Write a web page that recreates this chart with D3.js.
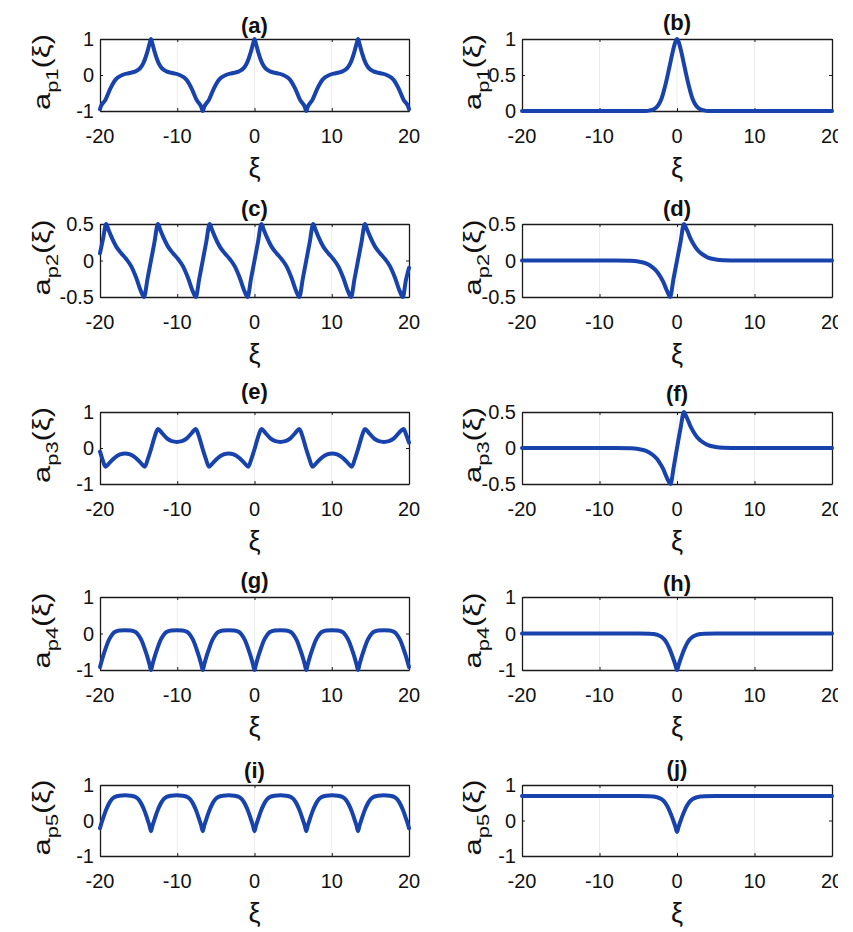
<!DOCTYPE html>
<html>
<head>
<meta charset="utf-8">
<script src="https://cdn.jsdelivr.net/npm/d3@7"></script>
<style>
  html, body { margin: 0; padding: 0; background: #ffffff; }
  svg { display: block; }
  text { font-family: "Liberation Sans", Arial, sans-serif; fill: #111; }
</style>
</head>
<body>
<svg id="chart" width="853" height="932"></svg>
<script>
// ---------------- DATA ----------------
const xTicks = [-20, -10, 0, 10, 20];

// (a) a_p1, periodic
const xiA = [-20,-19.9,-19.3,-18.65,-18.0,-17.1,-16.3,-15.4,-14.8,-14.4,-13.9,-13.6,-13.4,
  -13.2,-12.9,-12.4,-12.0,-11.4,-10.5,-9.7,-8.8,-8.15,-7.5,-6.9,-6.7,
  -6.5,-5.9,-5.25,-4.6,-3.7,-2.9,-2.0,-1.4,-1.0,-0.5,-0.2,0,
  0.2,0.5,1.0,1.4,2.0,2.9,3.7,4.6,5.25,5.9,6.5,6.7,
  6.9,7.5,8.15,8.8,9.7,10.5,11.4,12.0,12.4,12.9,13.2,13.4,
  13.6,13.9,14.4,14.8,15.4,16.3,17.1,18.0,18.65,19.3,19.9,20];
const apA = [-0.95,-0.88,-0.69,-0.37,-0.13,0.0,0.05,0.1,0.19,0.32,0.62,0.86,1,
  0.86,0.62,0.32,0.19,0.1,0.05,0.0,-0.13,-0.37,-0.69,-0.88,-1,
  -0.88,-0.69,-0.37,-0.13,0.0,0.05,0.1,0.19,0.32,0.62,0.86,1,
  0.86,0.62,0.32,0.19,0.1,0.05,0.0,-0.13,-0.37,-0.69,-0.88,-1,
  -0.88,-0.69,-0.37,-0.13,0.0,0.05,0.1,0.19,0.32,0.62,0.86,1,
  0.86,0.62,0.32,0.19,0.1,0.05,0.0,-0.13,-0.37,-0.69,-0.88,-0.95];

// (b) a_p1, localized
const xiB = [-20,-10,-5,-4,-3.5,-3,-2.5,-2,-1.5,-1,-0.6,-0.3,0,0.3,0.6,1,1.5,2,2.5,3,3.5,4,5,10,20];
const apB = [0,0,0,0,0.008,0.025,0.07,0.17,0.36,0.6,0.8,0.93,1,0.93,0.8,0.6,0.36,0.17,0.07,0.025,0.008,0,0,0,0];

// (c) a_p2, periodic sawtooth-like
const xiC = [-20,-19.6,-19.2,-18.9,-18.55,-17.9,-17.25,-16.6,-15.95,-15.3,-14.7,-14.3,
  -13.85,-13.4,-12.95,-12.5,-12.2,-11.85,-11.2,-10.55,-9.9,-9.25,-8.6,-8.0,-7.6,
  -7.15,-6.7,-6.25,-5.8,-5.5,-5.15,-4.5,-3.85,-3.2,-2.55,-1.9,-1.3,-0.9,
  -0.45,0,0.45,0.9,1.2,1.55,2.2,2.85,3.5,4.15,4.8,5.4,5.8,
  6.25,6.7,7.15,7.6,7.9,8.25,8.9,9.55,10.2,10.85,11.5,12.1,12.5,
  12.95,13.4,13.85,14.3,14.6,14.95,15.6,16.25,16.9,17.55,18.2,18.8,19.2,19.6,20];
const apC = [0.1,0.3,0.5,0.42,0.33,0.19,0.1,0.02,-0.08,-0.24,-0.42,-0.5,
  -0.25,0,0.25,0.5,0.42,0.33,0.19,0.1,0.02,-0.08,-0.24,-0.42,-0.5,
  -0.25,0,0.25,0.5,0.42,0.33,0.19,0.1,0.02,-0.08,-0.24,-0.42,-0.5,
  -0.25,0,0.25,0.5,0.42,0.33,0.19,0.1,0.02,-0.08,-0.24,-0.42,-0.5,
  -0.25,0,0.25,0.5,0.42,0.33,0.19,0.1,0.02,-0.08,-0.24,-0.42,-0.5,
  -0.25,0,0.25,0.5,0.42,0.33,0.19,0.1,0.02,-0.08,-0.24,-0.42,-0.5,-0.27,-0.1];

// (d) a_p2, localized
const xiD = [-20,-8,-6,-5,-4,-3.2,-2.6,-2.1,-1.7,-1.4,-1.1,-0.9,-0.45,0,0.45,0.9,1.1,1.4,1.7,2.1,2.6,3.2,4,5,6,8,20];
const apD = [0,0,-0.005,-0.015,-0.04,-0.09,-0.15,-0.23,-0.31,-0.39,-0.46,-0.5,-0.25,0,0.25,0.5,0.46,0.39,0.31,0.23,0.15,0.09,0.04,0.015,0.005,0,0];

// (e) a_p3, periodic
const xiE = [-20,-19.7,-19.3,-18.8,-18.1,-17.4,-16.75,-16.1,-15.4,-14.7,-14.2,
  -13.8,-13.35,-12.9,-12.5,-12.0,-11.3,-10.7,-10.05,-9.4,-8.8,-8.1,-7.6,
  -7.2,-6.75,-6.3,-5.9,-5.4,-4.7,-4.0,-3.35,-2.7,-2.0,-1.3,-0.8,
  -0.4,0.05,0.5,0.9,1.4,2.1,2.7,3.35,4.0,4.6,5.3,5.8,
  6.2,6.65,7.1,7.5,8.0,8.7,9.4,10.05,10.7,11.4,12.1,12.6,
  13.0,13.45,13.9,14.3,14.8,15.5,16.1,16.75,17.4,18.0,18.7,19.3,19.65,20];
const apE = [-0.1,-0.3,-0.52,-0.42,-0.27,-0.18,-0.15,-0.18,-0.27,-0.42,-0.52,
  -0.3,0,0.33,0.53,0.42,0.26,0.19,0.17,0.19,0.26,0.42,0.53,
  0.33,0,-0.3,-0.52,-0.42,-0.27,-0.18,-0.15,-0.18,-0.27,-0.42,-0.52,
  -0.3,0,0.33,0.53,0.42,0.26,0.19,0.17,0.19,0.26,0.42,0.53,
  0.33,0,-0.3,-0.52,-0.42,-0.27,-0.18,-0.15,-0.18,-0.27,-0.42,-0.52,
  -0.3,0,0.33,0.53,0.42,0.26,0.19,0.17,0.19,0.26,0.42,0.53,0.36,0.15];

// (f) a_p3, localized
const xiF = [-20,-8,-6,-5,-4,-3.2,-2.6,-2.1,-1.7,-1.4,-1.1,-0.85,-0.4,0,0.45,0.9,1.1,1.4,1.7,2.1,2.6,3.2,4,5,6,8,20];
const apF = [0,0,-0.005,-0.015,-0.04,-0.09,-0.15,-0.23,-0.31,-0.39,-0.46,-0.5,-0.25,0,0.27,0.5,0.46,0.39,0.31,0.23,0.15,0.09,0.04,0.015,0.005,0,0];

// (g) a_p4, periodic arches
const xiG = [-20,-19.9,-19.6,-19.3,-18.9,-18.5,-18.1,-17.5,-16.75,-16.0,-15.4,-15.0,-14.6,-14.2,-13.9,-13.6,-13.4,
  -13.2,-12.9,-12.6,-12.2,-11.8,-11.4,-10.8,-10.05,-9.3,-8.7,-8.3,-7.9,-7.5,-7.2,-6.9,-6.7,
  -6.5,-6.2,-5.9,-5.5,-5.1,-4.7,-4.1,-3.35,-2.6,-2.0,-1.6,-1.2,-0.8,-0.5,-0.2,0,
  0.2,0.5,0.8,1.2,1.6,2.0,2.6,3.35,4.1,4.7,5.1,5.5,5.9,6.2,6.5,6.7,
  6.9,7.2,7.5,7.9,8.3,8.7,9.3,10.05,10.8,11.4,11.8,12.2,12.6,12.9,13.2,13.4,
  13.6,13.9,14.2,14.6,15.0,15.4,16.0,16.75,17.5,18.1,18.5,18.9,19.3,19.6,19.9,20];
const apG = [-0.92,-0.84,-0.62,-0.43,-0.2,-0.05,0.04,0.08,0.09,0.08,0.04,-0.05,-0.2,-0.43,-0.62,-0.84,-1,
  -0.84,-0.62,-0.43,-0.2,-0.05,0.04,0.08,0.09,0.08,0.04,-0.05,-0.2,-0.43,-0.62,-0.84,-1,
  -0.84,-0.62,-0.43,-0.2,-0.05,0.04,0.08,0.09,0.08,0.04,-0.05,-0.2,-0.43,-0.62,-0.84,-1,
  -0.84,-0.62,-0.43,-0.2,-0.05,0.04,0.08,0.09,0.08,0.04,-0.05,-0.2,-0.43,-0.62,-0.84,-1,
  -0.84,-0.62,-0.43,-0.2,-0.05,0.04,0.08,0.09,0.08,0.04,-0.05,-0.2,-0.43,-0.62,-0.84,-1,
  -0.84,-0.62,-0.43,-0.2,-0.05,0.04,0.08,0.09,0.08,0.04,-0.05,-0.2,-0.43,-0.62,-0.84,-0.92];

// (h) a_p4, localized dip
const xiH = [-20,-5,-3.5,-3,-2.5,-2,-1.6,-1.3,-1.0,-0.7,-0.4,-0.2,0,0.2,0.4,0.7,1.0,1.3,1.6,2,2.5,3,3.5,5,20];
const apH = [0,0,-0.005,-0.015,-0.04,-0.09,-0.17,-0.27,-0.4,-0.56,-0.74,-0.87,-1,-0.87,-0.74,-0.56,-0.4,-0.27,-0.17,-0.09,-0.04,-0.015,-0.005,0,0];

// (i) a_p5, periodic arches
const xiI = xiG.slice();
const apI = [-0.22,-0.14,0.06,0.25,0.45,0.59,0.66,0.7,0.71,0.7,0.66,0.59,0.45,0.25,0.06,-0.14,-0.3,
  -0.14,0.06,0.25,0.45,0.59,0.66,0.7,0.71,0.7,0.66,0.59,0.45,0.25,0.06,-0.14,-0.3,
  -0.14,0.06,0.25,0.45,0.59,0.66,0.7,0.71,0.7,0.66,0.59,0.45,0.25,0.06,-0.14,-0.3,
  -0.14,0.06,0.25,0.45,0.59,0.66,0.7,0.71,0.7,0.66,0.59,0.45,0.25,0.06,-0.14,-0.3,
  -0.14,0.06,0.25,0.45,0.59,0.66,0.7,0.71,0.7,0.66,0.59,0.45,0.25,0.06,-0.14,-0.3,
  -0.14,0.06,0.25,0.45,0.59,0.66,0.7,0.71,0.7,0.66,0.59,0.45,0.25,0.06,-0.14,-0.22];

// (j) a_p5, localized dip on a plateau
const xiJ = xiH.slice();
const apJ = [0.69,0.69,0.685,0.675,0.65,0.6,0.52,0.42,0.29,0.13,-0.05,-0.18,-0.32,-0.18,-0.05,0.13,0.29,0.42,0.52,0.6,0.65,0.675,0.685,0.69,0.69];

const ticks1 = [-1, 0, 1];
const ticksHalf = [-0.5, 0, 0.5];
const ticks01 = [0, 0.5, 1];

const panelLetters = ["a","b","c","d","e","f","g","h","i","j"];
const subLabels = ["p1","p1","p2","p2","p3","p3","p4","p4","p5","p5"];

// ---------------- LAYOUT ----------------
const cols = [{x0: 100, x1: 409, labelX: 50, tickRight: 94},
              {x0: 522, x1: 832, labelX: 481, tickRight: 516}];
const rows = [{y0: 39, y1: 111}, {y0: 224, y1: 297}, {y0: 412, y1: 484},
              {y0: 597, y1: 670}, {y0: 785, y1: 856}];
const titleY = [33, 30, 216, 216, 399, 401, 588, 591, 778, 776];

const panels = [
  {xi: xiA, ap: apA, dom: [-1, 1], yt: ticks1},
  {xi: xiB, ap: apB, dom: [0, 1], yt: ticks01},
  {xi: xiC, ap: apC, dom: [-0.5, 0.5], yt: ticksHalf},
  {xi: xiD, ap: apD, dom: [-0.5, 0.5], yt: ticksHalf},
  {xi: xiE, ap: apE, dom: [-1, 1], yt: ticks1},
  {xi: xiF, ap: apF, dom: [-0.5, 0.5], yt: ticksHalf},
  {xi: xiG, ap: apG, dom: [-1, 1], yt: ticks1},
  {xi: xiH, ap: apH, dom: [-1, 1], yt: ticks1},
  {xi: xiI, ap: apI, dom: [-1, 1], yt: ticks1},
  {xi: xiJ, ap: apJ, dom: [-1, 1], yt: ticks1}
];

const svg = d3.select("#chart");
const lineColor = "#1843ad";
const fmt = v => String(v);

panels.forEach((p, i) => {
  const c = cols[i % 2], r = rows[Math.floor(i / 2)];
  const x = d3.scaleLinear().domain([-20, 20]).range([c.x0, c.x1]);
  const y = d3.scaleLinear().domain(p.dom).range([r.y1, r.y0]);
  const g = svg.append("g");

  // faint vertical grid traces
  g.selectAll("line.grid").data(xTicks.slice(1, -1)).join("line")
    .attr("x1", d => x(d)).attr("x2", d => x(d))
    .attr("y1", r.y0).attr("y2", r.y1)
    .attr("stroke", "#ececec").attr("stroke-width", 1);

  // axes (ticks inward), with box
  const axB = d3.axisBottom(x).tickValues(xTicks).tickSizeInner(-3).tickSizeOuter(0).tickFormat("");
  const axT = d3.axisTop(x).tickValues(xTicks).tickSizeInner(-3).tickSizeOuter(0).tickFormat("");
  const axL = d3.axisLeft(y).tickValues(p.yt).tickSizeInner(-3).tickSizeOuter(0).tickFormat("");
  const axR = d3.axisRight(y).tickValues(p.yt).tickSizeInner(-3).tickSizeOuter(0).tickFormat("");
  [[axB, `translate(0,${r.y1})`], [axT, `translate(0,${r.y0})`],
   [axL, `translate(${c.x0},0)`], [axR, `translate(${c.x1},0)`]].forEach(([ax, tr]) => {
    const a = g.append("g").attr("transform", tr).call(ax);
    a.selectAll("path.domain").attr("stroke", "#1a1a1a").attr("stroke-width", 1.3);
    a.selectAll(".tick line").attr("stroke", "#1a1a1a").attr("stroke-width", 1);
  });

  // x tick labels
  g.selectAll("text.xt").data(xTicks).join("text")
    .attr("x", d => x(d)).attr("y", r.y1 + 32)
    .attr("text-anchor", "middle").attr("font-size", 20)
    .text(fmt);

  // y tick labels
  g.selectAll("text.yt").data(p.yt).join("text")
    .attr("x", c.tickRight).attr("y", d => y(d)).attr("dy", "0.36em")
    .attr("text-anchor", "end").attr("font-size", 20)
    .text(fmt);

  // data line
  const pts = p.xi.map((v, k) => [v, p.ap[k]]);
  g.append("path").datum(pts)
    .attr("fill", "none").attr("stroke", lineColor)
    .attr("stroke-width", 4).attr("stroke-linejoin", "round").attr("stroke-linecap", "round")
    .attr("d", d3.line().x(d => x(d[0])).y(d => y(d[1])).curve(d3.curveMonotoneX));

  // title
  g.append("text").attr("x", (c.x0 + c.x1) / 2).attr("y", titleY[i])
    .attr("text-anchor", "middle").attr("font-size", 22).attr("font-weight", "bold")
    .text(`(${panelLetters[i]})`);

  // x label
  g.append("text").attr("x", (c.x0 + c.x1) / 2).attr("y", r.y1 + 66)
    .attr("text-anchor", "middle").attr("font-size", 27)
    .text("ξ");

  // y label
  const cy = (r.y0 + r.y1) / 2 - 3;
  const yl = g.append("text").attr("text-anchor", "middle").attr("font-size", 24);
  yl.append("tspan").text("a");
  yl.append("tspan").attr("font-size", 17).attr("dy", 8).text(subLabels[i]);
  yl.append("tspan").attr("dy", -8).text("(ξ)");
  const len = yl.node().getComputedTextLength();
  const sx = 76 / len;
  yl.attr("transform", `translate(${c.labelX},${cy}) rotate(-90) scale(${sx},1)`);
});

// the reference picture is cropped at its right side
svg.append("rect").attr("x", 838).attr("y", 0).attr("width", 15).attr("height", 932).attr("fill", "#ffffff");
</script>
</body>
</html>
